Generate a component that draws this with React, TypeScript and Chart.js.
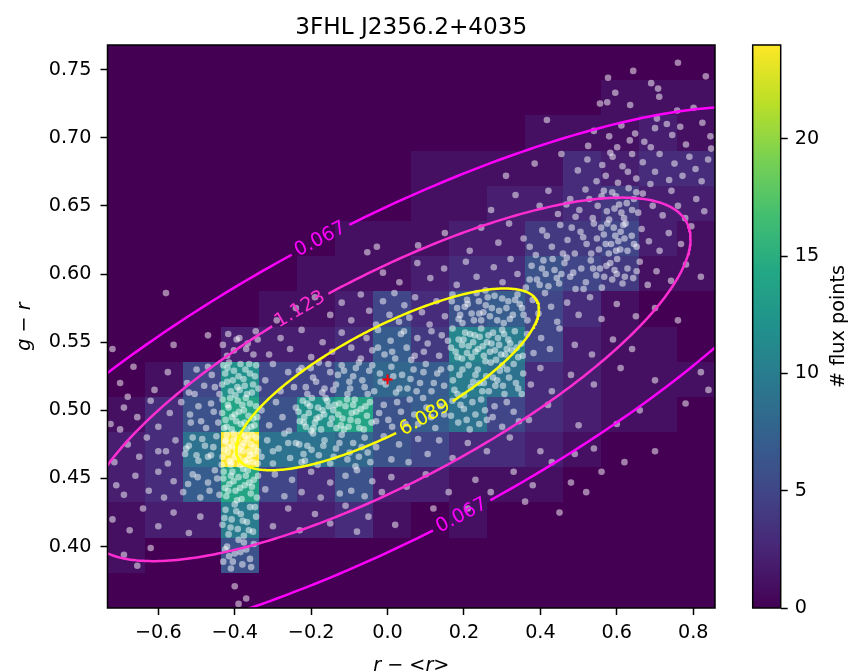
import React, { useEffect, useRef } from "react";
import { Chart, registerables } from "chart.js";

Chart.register(...registerables);

const FONT = '"DejaVu Sans", "Liberation Sans", sans-serif';

const TITLE = "3FHL J2356.2+4035";
const X_LABEL = "r − <r>";
const Y_LABEL = "g − r";
const CBAR_LABEL = "# flux points";

const X_RANGE = [-0.733, 0.857];
const Y_RANGE = [0.355, 0.768];
const X_TICKS = [-0.6, -0.4, -0.2, 0.0, 0.2, 0.4, 0.6, 0.8];
const Y_TICKS = [0.4, 0.45, 0.5, 0.55, 0.6, 0.65, 0.7, 0.75];
const CBAR_TICKS = [0, 5, 10, 15, 20];
const CBAR_MAX = 24;

// 16 x 16 histogram counts, rows from top (high g-r) to bottom
const HIST_COUNTS: number[][] = [
  [0, 0, 0, 0, 0, 0, 0, 0, 0, 0, 0, 0, 0, 0, 0, 0],
  [0, 0, 0, 0, 0, 0, 0, 0, 0, 0, 0, 0, 0, 1, 1, 1],
  [0, 0, 0, 0, 0, 0, 0, 0, 0, 0, 0, 1, 1, 1, 2, 1],
  [0, 0, 0, 0, 0, 0, 0, 0, 1, 1, 1, 1, 3, 2, 3, 3],
  [0, 0, 0, 0, 0, 0, 0, 0, 1, 1, 2, 2, 3, 4, 2, 2],
  [0, 0, 0, 0, 0, 0, 1, 1, 1, 2, 2, 4, 4, 5, 2, 1],
  [0, 0, 0, 0, 0, 1, 1, 1, 2, 3, 3, 6, 5, 4, 1, 1],
  [0, 0, 0, 0, 1, 1, 2, 5, 3, 6, 7, 5, 3, 1, 0, 0],
  [0, 0, 0, 2, 2, 2, 3, 7, 4, 11, 10, 5, 2, 1, 1, 0],
  [0, 1, 5, 12, 5, 5, 7, 8, 7, 10, 9, 3, 2, 1, 1, 1],
  [1, 3, 6, 14, 6, 12, 14, 6, 7, 9, 5, 3, 2, 1, 1, 0],
  [2, 3, 9, 24, 9, 9, 8, 6, 5, 3, 3, 2, 1, 0, 0, 0],
  [2, 3, 7, 14, 5, 3, 6, 2, 2, 1, 1, 1, 0, 0, 0, 0],
  [1, 2, 2, 10, 2, 2, 3, 1, 0, 1, 0, 0, 0, 0, 0, 0],
  [1, 0, 0, 6, 0, 0, 0, 0, 0, 0, 0, 0, 0, 0, 0, 0],
  [0, 0, 0, 0, 0, 0, 0, 0, 0, 0, 0, 0, 0, 0, 0, 0],
];

// Gaussian model behind the contours
const GAUSS_MEAN = [0.0, 0.5227];
const GAUSS_SIGMA = [0.37345, 0.062806];
const GAUSS_RHO = 0.773;
const CONTOUR_LEVELS = [0.067, 1.123, 6.089];
const CONTOUR_COLORS = ["#ff00ff", "#ff2dd2", "#ffff00"];
const CONTOUR_LABEL_T = [[98.5, 279.4], [106.8], [284.3]];
const CENTER = [0.0, 0.5227];

const SCATTER: number[][] = [
  [.760,.755],[.643,.749],[.577,.744],[.708,.736],[.711,.730],[.596,.733],[.556,.725],[.575,.726],[.635,.724],[.758,.720],[.417,.713],[.705,.714],[.731,.710],[.833,.745],[.801,.722],[.690,.740],[.845,.701],
  [.540,.705],[.580,.701],[.612,.709],[.648,.703],[.672,.697],[.700,.707],[.745,.702],[.781,.695],[.824,.711],[.525,.694],[.601,.693],[.689,.693],[.766,.708],[.634,.698],[.847,.692],
  [.455,.688],[.498,.676],[.523,.684],[.562,.680],[.571,.672],[.589,.686],[.603,.667],[.615,.679],[.640,.688],[.651,.670],[.668,.682],[.700,.675],[.712,.688],[.737,.669],[.751,.681],[.772,.672],[.790,.686],[.806,.677],[.822,.668],[.839,.684],[.547,.668],[.629,.675],[.583,.689],[.688,.666],[.385,.681],[.310,.672],
  [.271,.647],[.335,.658],[.398,.650],[.421,.661],[.446,.644],[.478,.655],[.502,.647],[.518,.662],[.537,.641],[.560,.657],[.574,.646],[.588,.660],[.606,.651],[.619,.641],[.631,.663],[.645,.655],[.656,.645],[.668,.659],[.694,.650],[.720,.643],[.743,.661],[.760,.650],[.779,.641],[.808,.655],[.829,.646],[.612,.645],[.598,.657],[.550,.650],[.580,.640],[.640,.647],
  [.080,.621],[.150,.630],[.215,.617],[.245,.634],[.290,.623],[.318,.637],[.356,.626],[.388,.614],[.405,.632],[.430,.620],[.452,.636],[.471,.625],[.490,.615],[.505,.631],[.521,.622],[.540,.637],[.553,.618],[.566,.629],[.579,.615],[.592,.634],[.604,.624],[.617,.636],[.628,.617],[.639,.628],[.652,.620],[.665,.633],[.684,.624],[.712,.617],[.736,.630],[.768,.622],[.795,.635],[.620,.626],[.585,.622],[.548,.626],[.598,.617],[.610,.631],[.575,.637],[-.053,.616],[-.028,.620],
  [-.012,.601],[.031,.594],[.078,.608],[.112,.597],[.148,.604],[.181,.592],[.205,.609],[.233,.598],[.256,.588],[.278,.605],[.301,.594],[.322,.611],[.340,.600],[.362,.590],[.377,.606],[.391,.596],[.408,.610],[.421,.591],[.437,.603],[.449,.593],[.463,.608],[.478,.598],[.492,.589],[.507,.604],[.519,.594],[.532,.610],[.546,.599],[.561,.590],[.573,.606],[.588,.596],[.601,.611],[.615,.593],[.628,.604],[.643,.597],[.660,.609],[.681,.592],[.704,.602],[.742,.595],[.781,.607],[.820,.598],[.414,.600],[.398,.592],[.432,.611],[.455,.600],[.600,.600],[.583,.608],[.556,.604],
  [-.290,.566],[-.240,.575],[-.190,.583],[-.150,.570],[-.120,.579],[-.095,.566],[-.070,.585],[-.048,.573],[-.030,.563],[-.012,.580],[.005,.570],[.018,.586],[.030,.565],[.044,.577],[.057,.568],[.072,.583],[.090,.572],[.110,.563],[.128,.580],[.150,.569],[.170,.585],[.182,.575],[.196,.564],[.208,.581],[.220,.571],[.233,.586],[.245,.566],[.257,.577],[.268,.569],[.280,.584],[.292,.573],[.304,.564],[.316,.580],[.328,.570],[.340,.585],[.352,.575],[.366,.566],[.380,.581],[.395,.571],[.412,.586],[.428,.576],[.444,.565],[.470,.579],[.500,.570],[.530,.583],[.560,.567],[.600,.578],[.650,.569],[.700,.575],[.760,.566],[.210,.578],[.240,.571],[.300,.582],[.190,.570],[.262,.583],[.320,.567],[.346,.578],[-.580,.586],
  [-.560,.548],[-.470,.555],[-.420,.540],[-.395,.552],[-.370,.545],[-.345,.558],[-.310,.541],[-.280,.553],[-.255,.545],[-.225,.559],[-.200,.539],[-.170,.550],[-.145,.543],[-.120,.557],[-.095,.546],[-.070,.538],[-.055,.553],[-.040,.544],[-.025,.559],[-.008,.541],[.008,.551],[.020,.538],[.035,.556],[.050,.546],[.062,.537],[.078,.553],[.095,.543],[.115,.558],[.135,.540],[.158,.551],[.170,.560],[.178,.543],[.186,.552],[.195,.538],[.203,.557],[.212,.547],[.220,.539],[.228,.555],[.237,.545],[.245,.560],[.252,.540],[.260,.550],[.268,.543],[.276,.557],[.284,.537],[.292,.548],[.300,.559],[.308,.541],[.316,.552],[.325,.544],[.333,.558],[.342,.539],[.350,.549],[.365,.556],[.382,.542],[.402,.553],[.425,.545],[.450,.560],[.490,.548],[.535,.541],[.590,.552],[.640,.545],[.195,.548],[.230,.543],[.264,.555],[.289,.553],[.312,.545],[.216,.556],[-.720,.545],
  [-.700,.520],[-.665,.532],[-.610,.515],[-.575,.528],[-.520,.513],[-.500,.530],[-.480,.518],[-.460,.526],[-.440,.512],[-.430,.533],[-.420,.521],[-.410,.514],[-.402,.529],[-.393,.517],[-.385,.534],[-.377,.523],[-.368,.512],[-.360,.527],[-.352,.519],[-.344,.533],[-.425,.527],[-.398,.511],[-.372,.530],[-.415,.535],[-.390,.525],[-.355,.513],[-.320,.522],[-.300,.534],[-.280,.514],[-.260,.528],[-.245,.517],[-.225,.531],[-.210,.512],[-.195,.524],[-.180,.535],[-.165,.516],[-.150,.528],[-.135,.519],[-.120,.533],[-.105,.512],[-.090,.525],[-.075,.535],[-.060,.517],[-.048,.529],[-.035,.514],[-.020,.527],[-.005,.519],[.010,.532],[.022,.513],[.038,.526],[.052,.516],[.068,.530],[.085,.520],[.100,.534],[.115,.514],[.130,.527],[.148,.518],[.165,.531],[.175,.515],[.188,.526],[.200,.511],[.212,.533],[.224,.521],[.236,.530],[.248,.514],[.258,.525],[.270,.535],[.282,.518],[.294,.529],[.306,.512],[.318,.524],[.330,.534],[.342,.516],[.355,.527],[.375,.519],[.400,.531],[.430,.514],[.480,.526],[.540,.519],[.610,.531],[.700,.522],[.820,.528],[.240,.520],[.276,.524],[.300,.533],[-.130,.526],[-.100,.521],[-.040,.533],[-.680,.510],
  [-.725,.490],[-.690,.502],[-.655,.495],[-.620,.507],[-.600,.488],[-.570,.498],[-.540,.506],[-.515,.491],[-.495,.503],[-.475,.487],[-.455,.499],[-.432,.508],[-.424,.493],[-.416,.502],[-.408,.486],[-.400,.497],[-.392,.507],[-.384,.490],[-.376,.500],[-.368,.486],[-.360,.505],[-.352,.494],[-.344,.503],[-.428,.487],[-.412,.509],[-.396,.492],[-.380,.504],[-.364,.496],[-.348,.489],[-.330,.500],[-.310,.489],[-.292,.506],[-.275,.495],[-.258,.485],[-.240,.502],[-.230,.492],[-.222,.507],[-.214,.488],[-.206,.498],[-.198,.509],[-.190,.491],[-.182,.502],[-.174,.486],[-.166,.497],[-.158,.507],[-.150,.490],[-.142,.500],[-.134,.487],[-.126,.505],[-.118,.494],[-.110,.503],[-.102,.488],[-.094,.498],[-.086,.508],[-.078,.492],[-.070,.501],[-.062,.486],[-.054,.496],[-.046,.506],[-.218,.495],[-.186,.494],[-.154,.503],[-.122,.489],[-.090,.504],[-.030,.492],[-.010,.504],[.012,.488],[.035,.499],[.058,.508],[.080,.490],[.102,.502],[.125,.487],[.148,.497],[.170,.507],[.185,.491],[.200,.501],[.215,.486],[.230,.497],[.245,.508],[.260,.493],[.280,.503],[.300,.488],[.330,.499],[.370,.493],[.420,.504],[.500,.489],[-.700,.486],[-.200,.485],[.600,.490],[.660,.500],[.780,.505],[.840,.515],
  [-.715,.462],[-.680,.475],[-.650,.466],[-.630,.480],[-.600,.470],[-.575,.461],[-.555,.478],[-.530,.468],[-.510,.480],[-.495,.463],[-.478,.474],[-.462,.467],[-.448,.481],[-.434,.460],[-.428,.471],[-.421,.482],[-.414,.463],[-.407,.474],[-.400,.466],[-.393,.479],[-.386,.460],[-.379,.470],[-.372,.481],[-.365,.464],[-.358,.475],[-.351,.468],[-.344,.480],[-.340,.461],[-.418,.469],[-.404,.478],[-.390,.465],[-.376,.476],[-.362,.470],[-.348,.473],[-.425,.477],[-.411,.460],[-.397,.472],[-.383,.483],[-.369,.461],[-.355,.482],[-.330,.466],[-.315,.478],[-.300,.461],[-.285,.472],[-.270,.483],[-.255,.465],[-.240,.476],[-.225,.462],[-.210,.474],[-.195,.483],[-.180,.467],[-.165,.478],[-.150,.461],[-.135,.472],[-.120,.482],[-.105,.464],[-.090,.476],[-.075,.466],[-.060,.480],[-.045,.462],[-.030,.473],[-.010,.481],[.010,.464],[.030,.475],[.055,.462],[.080,.479],[.105,.468],[.135,.478],[.170,.465],[.210,.476],[.260,.470],[.320,.480],[-.580,.470],[-.520,.474],[-.470,.466],[-.300,.470],[-.260,.476],[-.220,.468],[.400,.470],[.430,.462],[.490,.468],[.540,.472],[.620,.462],[.700,.470],
  [-.710,.445],[-.690,.438],[-.660,.452],[-.625,.441],[-.600,.455],[-.585,.436],[-.560,.448],[-.535,.440],[-.510,.453],[-.490,.436],[-.470,.447],[-.452,.456],[-.440,.438],[-.430,.450],[-.422,.437],[-.414,.446],[-.406,.455],[-.398,.441],[-.390,.451],[-.382,.435],[-.374,.445],[-.366,.456],[-.358,.439],[-.350,.449],[-.342,.436],[-.426,.443],[-.410,.452],[-.394,.434],[-.378,.457],[-.362,.447],[-.320,.442],[-.295,.453],[-.270,.437],[-.250,.449],[-.225,.440],[-.200,.455],[-.175,.436],[-.150,.447],[-.125,.439],[-.110,.452],[-.095,.441],[-.080,.456],[-.060,.437],[-.040,.448],[-.015,.440],[.010,.451],[.050,.444],[.100,.453],[.160,.440],[.230,.449],[.270,.440],[.330,.455],[.380,.445],[.480,.447],[.520,.440],[.560,.455],
  [-.720,.420],[-.675,.412],[-.640,.428],[-.600,.415],[-.560,.425],[-.520,.410],[-.490,.422],[-.432,.416],[-.424,.427],[-.416,.409],[-.408,.420],[-.400,.431],[-.392,.413],[-.384,.424],[-.376,.408],[-.368,.418],[-.360,.429],[-.352,.411],[-.344,.422],[-.300,.415],[-.260,.428],[-.230,.412],[-.190,.424],[-.150,.417],[-.110,.430],[-.080,.411],[-.050,.422],[.020,.416],[.120,.428],[.210,.428],[.360,.433],[.450,.425],
  [-.690,.394],[-.655,.386],[-.620,.399],[-.430,.389],[-.420,.400],[-.410,.384],[-.400,.395],[-.390,.405],[-.380,.387],[-.370,.398],[-.360,.391],[-.350,.402],[-.415,.393],[-.385,.396],
  [-.400,.371],[-.370,.362],[-.390,.358],
];

const SCATTER_DENSE: number[][] = [
  [-.431,.548],[-.417,.556],[-.402,.544],[-.388,.553],[-.366,.549],[-.351,.541],[-.340,.552],
  [-.433,.519],[-.419,.531],[-.405,.522],[-.387,.515],[-.374,.518],[-.362,.534],[-.347,.525],[-.338,.516],
  [-.433,.498],[-.421,.488],[-.407,.495],[-.389,.499],[-.371,.509],[-.357,.488],[-.341,.495],[-.418,.504],[-.374,.491],
  [-.432,.466],[-.423,.478],[-.409,.462],[-.396,.468],[-.381,.474],[-.367,.479],[-.353,.462],[-.339,.470],[-.416,.473],[-.402,.483],[-.388,.471],[-.374,.463],[-.360,.467],
  [-.429,.455],[-.417,.441],[-.403,.448],[-.386,.443],[-.371,.452],[-.355,.444],[-.339,.452],
  [-.427,.421],[-.411,.414],[-.396,.426],[-.379,.419],[-.363,.412],[-.347,.429],
  [-.425,.398],[-.405,.389],[-.376,.403],[-.357,.385],
  [-.525,.520],[-.505,.512],[-.470,.532],[-.452,.517],[-.517,.497],[-.488,.492],[-.462,.505],[-.443,.491],[-.527,.472],[-.500,.467],[-.485,.479],[-.456,.473],[-.522,.446],[-.497,.451],[-.466,.441],[-.446,.450],
  [-.232,.529],[-.214,.517],[-.201,.531],[-.187,.521],[-.171,.513],[-.155,.534],[-.142,.515],[-.114,.529],[-.098,.516],[-.083,.531],[-.066,.522],[-.052,.512],
  [-.233,.499],[-.219,.491],[-.203,.503],[-.194,.487],[-.178,.495],[-.162,.509],[-.146,.494],[-.138,.504],[-.129,.497],[-.114,.486],[-.106,.508],[-.097,.493],[-.082,.499],[-.074,.487],[-.058,.503],[-.042,.491],[-.170,.500],[-.210,.505],
  [-.231,.475],[-.216,.463],[-.199,.471],[-.183,.460],[-.168,.474],[-.141,.466],[-.126,.476],[-.099,.469],[-.084,.459],[-.068,.473],[-.052,.469],
  [-.025,.546],[.012,.543],[.043,.558],[.071,.540],[.105,.549],[.142,.555],
  [-.018,.521],[.015,.525],[.031,.516],[.060,.523],[.076,.514],[.094,.528],[.121,.520],[.140,.530],
  [-.022,.498],[.002,.493],[.025,.506],[.047,.490],[.070,.497],[.093,.509],[.114,.495],[.139,.503],
  [.168,.580],[.186,.567],[.202,.576],[.226,.566],[.239,.580],[.251,.572],[.273,.575],[.287,.566],[.311,.575],[.334,.581],[.356,.570],
  [.166,.546],[.183,.539],[.199,.552],[.208,.542],[.224,.550],[.241,.554],[.249,.547],[.256,.536],[.272,.549],[.281,.544],[.297,.541],[.305,.556],[.321,.549],[.338,.546],[.354,.540],
  [.171,.522],[.183,.512],[.196,.530],[.218,.517],[.230,.526],[.252,.520],[.265,.514],[.287,.522],[.302,.518],[.313,.530],[.336,.520],[.351,.512],
  [.166,.496],[.191,.504],[.207,.493],[.222,.506],[.240,.490],[.255,.500],[.275,.495],[.312,.506],[.344,.492],
  [.468,.651],[.492,.642],[.528,.655],[.566,.661],[.594,.648],[.626,.652],[.651,.660],
  [.372,.620],[.417,.628],[.459,.615],[.482,.634],[.512,.627],[.533,.615],[.559,.634],[.571,.622],[.596,.628],[.609,.618],[.623,.637],[.645,.622],
  [.372,.596],[.404,.604],[.443,.597],[.469,.612],[.486,.601],[.513,.589],[.538,.604],[.567,.598],[.594,.603],[.621,.598],[.652,.602],
];

const VIRIDIS: [number, number, number][] = [
  [68, 1, 84], [72, 36, 117], [65, 68, 135], [53, 95, 141], [42, 120, 142],
  [33, 145, 140], [34, 168, 132], [68, 191, 112], [122, 209, 81], [189, 223, 38], [253, 231, 37],
];

function viridis(f: number): string {
  const v = Math.max(0, Math.min(1, f)) * (VIRIDIS.length - 1);
  const i = Math.min(VIRIDIS.length - 2, Math.floor(v));
  const u = v - i;
  const a = VIRIDIS[i], b = VIRIDIS[i + 1];
  const c = a.map((q, k) => Math.round(q + (b[k] - q) * u));
  return `rgb(${c[0]},${c[1]},${c[2]})`;
}

const F0 = 1 / (2 * Math.PI * GAUSS_SIGMA[0] * GAUSS_SIGMA[1] * Math.sqrt(1 - GAUSS_RHO * GAUSS_RHO));
const levelRadius = (lvl: number) => Math.sqrt(2 * Math.log(F0 / lvl));

function ellipsePoint(d: number, tDeg: number) {
  const t = (tDeg * Math.PI) / 180;
  const c = Math.cos(t), s = Math.sin(t);
  return {
    x: GAUSS_MEAN[0] + d * GAUSS_SIGMA[0] * c,
    y: GAUSS_MEAN[1] + d * GAUSS_SIGMA[1] * (GAUSS_RHO * c + Math.sqrt(1 - GAUSS_RHO * GAUSS_RHO) * s),
  };
}

function ellipseData(lvl: number) {
  const d = levelRadius(lvl);
  const pts = [];
  for (let t = 0; t <= 360; t += 1) pts.push(ellipsePoint(d, t));
  return pts;
}

const fmtNum = (v: number, dec: number) => {
  const s = Math.abs(v).toFixed(dec);
  return v < -1e-9 ? "\u2212" + s : s;
};

const LABEL_FONT = `19.2px ${FONT}`;

function labelGeometry(chart: any, ci: number) {
  const xs = chart.scales.x, ys = chart.scales.y;
  const d = levelRadius(CONTOUR_LEVELS[ci]);
  const ctx = chart.ctx;
  ctx.save();
  ctx.font = LABEL_FONT;
  const text = CONTOUR_LEVELS[ci].toFixed(3);
  const w = ctx.measureText(text).width;
  ctx.restore();
  return CONTOUR_LABEL_T[ci].map((t) => {
    const p = ellipsePoint(d, t);
    const a = ellipsePoint(d, t - 0.5), b = ellipsePoint(d, t + 0.5);
    const px = xs.getPixelForValue(p.x), py = ys.getPixelForValue(p.y);
    let ang = Math.atan2(ys.getPixelForValue(b.y) - ys.getPixelForValue(a.y), xs.getPixelForValue(b.x) - xs.getPixelForValue(a.x));
    if (ang > Math.PI / 2) ang -= Math.PI;
    if (ang < -Math.PI / 2) ang += Math.PI;
    return { px, py, ang, w, text };
  });
}

const heatmapPlugin = {
  id: "heatmap",
  beforeDatasetsDraw(chart: any) {
    const { ctx } = chart;
    const xs = chart.scales.x, ys = chart.scales.y;
    const nr = HIST_COUNTS.length, nc = HIST_COUNTS[0].length;
    const dx = (X_RANGE[1] - X_RANGE[0]) / nc, dy = (Y_RANGE[1] - Y_RANGE[0]) / nr;
    ctx.save();
    for (let r = 0; r < nr; r++) {
      for (let c = 0; c < nc; c++) {
        const x0 = Math.round(xs.getPixelForValue(X_RANGE[0] + c * dx));
        const x1 = Math.round(xs.getPixelForValue(X_RANGE[0] + (c + 1) * dx));
        const y0 = Math.round(ys.getPixelForValue(Y_RANGE[1] - r * dy));
        const y1 = Math.round(ys.getPixelForValue(Y_RANGE[1] - (r + 1) * dy));
        ctx.fillStyle = viridis(HIST_COUNTS[r][c] / CBAR_MAX);
        ctx.fillRect(x0, y0, x1 - x0, y1 - y0);
      }
    }
    ctx.restore();
  },
};

const contourClipPlugin = {
  id: "contourClip",
  beforeDatasetDraw(chart: any, args: any) {
    const ds = chart.data.datasets[args.index];
    if (ds.contourIndex === undefined) return;
    const ctx = chart.ctx;
    const labels = labelGeometry(chart, ds.contourIndex);
    ctx.save();
    ctx.beginPath();
    ctx.rect(0, 0, chart.width, chart.height);
    labels.forEach((l: any) => {
      const hw = l.w / 2 + 5, hh = 11;
      const ca = Math.cos(l.ang), sa = Math.sin(l.ang);
      const corners = [[-hw, -hh], [hw, -hh], [hw, hh], [-hw, hh]].map(([u, v]) => [l.px + u * ca - v * sa, l.py + u * sa + v * ca]);
      ctx.moveTo(corners[0][0], corners[0][1]);
      for (let i = 1; i < 4; i++) ctx.lineTo(corners[i][0], corners[i][1]);
      ctx.closePath();
    });
    ctx.clip("evenodd");
  },
  afterDatasetDraw(chart: any, args: any) {
    const ds = chart.data.datasets[args.index];
    if (ds.contourIndex === undefined) return;
    chart.ctx.restore();
  },
};

const decorPlugin = {
  id: "decor",
  afterDatasetsDraw(chart: any) {
    const ctx = chart.ctx;
    ctx.save();
    ctx.font = LABEL_FONT;
    ctx.textAlign = "center";
    ctx.textBaseline = "middle";
    CONTOUR_LEVELS.forEach((_, ci) => {
      labelGeometry(chart, ci).forEach((l: any) => {
        ctx.save();
        ctx.translate(l.px, l.py);
        ctx.rotate(l.ang);
        ctx.fillStyle = CONTOUR_COLORS[ci];
        ctx.fillText(l.text, 0, 0);
        ctx.restore();
      });
    });
    ctx.restore();
  },
  afterDraw(chart: any) {
    const ctx = chart.ctx;
    const a = chart.chartArea;
    ctx.save();
    ctx.strokeStyle = "#000";
    ctx.lineWidth = 1.5;
    ctx.strokeRect(a.left, a.top, a.right - a.left, a.bottom - a.top);
    ctx.fillStyle = "#000";
    ctx.font = `23.2px ${FONT}`;
    ctx.textAlign = "center";
    ctx.textBaseline = "alphabetic";
    ctx.fillText(TITLE, (a.left + a.right) / 2, a.top - 11.2);
    ctx.restore();
  },
};

const colorbarPlugin = {
  id: "colorbar",
  beforeDatasetsDraw(chart: any) {
    const ctx = chart.ctx;
    const a = chart.chartArea;
    const ys = chart.scales.y;
    const yb = ys.getPixelForValue(0), yt = ys.getPixelForValue(CBAR_MAX);
    const g = ctx.createLinearGradient(0, yb, 0, yt);
    for (let i = 0; i <= 40; i++) g.addColorStop(i / 40, viridis(i / 40));
    ctx.save();
    ctx.fillStyle = g;
    ctx.fillRect(a.left, yt, a.right - a.left, yb - yt);
    ctx.strokeStyle = "#000";
    ctx.lineWidth = 1.5;
    ctx.strokeRect(a.left, yt, a.right - a.left, yb - yt);
    ctx.translate(ys.right - 12.5, (a.top + a.bottom) / 2);
    ctx.rotate(-Math.PI / 2);
    ctx.font = `19.2px ${FONT}`;
    ctx.fillStyle = "#000";
    ctx.textAlign = "center";
    ctx.textBaseline = "middle";
    ctx.fillText(CBAR_LABEL, 0, 0);
    ctx.restore();
  },
};

const tickFont = { family: FONT, size: 19.2 };
const gridOpts = { drawOnChartArea: false, drawTicks: true, tickLength: 7, tickWidth: 1.5, tickColor: "#000" };

export default function App() {
  const mainRef = useRef<HTMLCanvasElement | null>(null);
  const cbRef = useRef<HTMLCanvasElement | null>(null);

  useEffect(() => {
    if (!mainRef.current || !cbRef.current) return;
    const contourSets = CONTOUR_LEVELS.map((lvl, i) => ({
      label: lvl.toFixed(3),
      data: ellipseData(lvl),
      showLine: true,
      pointRadius: 0,
      borderColor: CONTOUR_COLORS[i],
      borderWidth: 2.5,
      tension: 0,
      fill: false,
      clip: 0,
      order: 1,
      contourIndex: i,
    }));
    const main = new Chart(mainRef.current, {
      type: "scatter",
      data: {
        datasets: [
          {
            label: "center",
            data: [{ x: CENTER[0], y: CENTER[1] }],
            pointStyle: "cross",
            pointRadius: 5,
            borderColor: "#ff0000",
            borderWidth: 2,
            order: 0,
          } as any,
          ...(contourSets as any[]),
          {
            label: "samples",
            data: SCATTER.concat(SCATTER_DENSE).map(([x, y]) => ({ x, y })),
            pointRadius: 3.3,
            backgroundColor: "rgba(255,255,255,0.5)",
            borderWidth: 0,
            clip: 0,
            order: 5,
          } as any,
        ],
      },
      options: {
        responsive: false,
        animation: false,
        events: [],
        layout: { padding: { left: 0, right: 137, top: 45, bottom: 0 } },
        plugins: { legend: { display: false }, tooltip: { enabled: false }, title: { display: false } },
        scales: {
          x: {
            type: "linear",
            min: X_RANGE[0],
            max: X_RANGE[1],
            afterFit: (s: any) => { s.height = 64; },
            afterBuildTicks: (s: any) => { s.ticks = X_TICKS.map((v) => ({ value: v })); },
            ticks: { callback: (v: any) => fmtNum(Number(v), 1), font: tickFont, color: "#000", padding: 6, maxRotation: 0, autoSkip: false },
            grid: gridOpts,
            border: { display: false },
            title: { display: true, text: X_LABEL, font: { family: FONT, size: 19.2, style: "italic" }, color: "#000", padding: { top: 0, bottom: -6 } },
          },
          y: {
            type: "linear",
            min: Y_RANGE[0],
            max: Y_RANGE[1],
            afterFit: (s: any) => { s.width = 107.5; },
            afterBuildTicks: (s: any) => { s.ticks = Y_TICKS.map((v) => ({ value: v })); },
            ticks: { callback: (v: any) => fmtNum(Number(v), 2), font: tickFont, color: "#000", padding: 9, autoSkip: false },
            grid: gridOpts,
            border: { display: false },
            title: { display: true, text: Y_LABEL, font: { family: FONT, size: 19.2, style: "italic" }, color: "#000", padding: { top: 13, bottom: 0 } },
          },
        },
      } as any,
      plugins: [heatmapPlugin, contourClipPlugin, decorPlugin],
    });

    const cb = new Chart(cbRef.current, {
      type: "scatter",
      data: { datasets: [] },
      options: {
        responsive: false,
        animation: false,
        events: [],
        layout: { padding: { left: 752.7, right: 0, top: 45, bottom: 64 } },
        plugins: { legend: { display: false }, tooltip: { enabled: false } },
        scales: {
          x: { display: false, min: 0, max: 1 },
          y: {
            position: "right",
            min: 0,
            max: CBAR_MAX,
            afterFit: (s: any) => { s.width = 71.3; },
            afterBuildTicks: (s: any) => { s.ticks = CBAR_TICKS.map((v) => ({ value: v })); },
            ticks: { callback: (v: any) => String(v), font: tickFont, color: "#000", padding: 7, autoSkip: false },
            grid: gridOpts,
            border: { display: false },
          },
        },
      } as any,
      plugins: [colorbarPlugin],
    });

    return () => {
      main.destroy();
      cb.destroy();
    };
  }, []);

  return (
    <div style={{ position: "fixed", left: 0, top: 0, width: 852, height: 672, background: "#fff" }}>
      <canvas ref={mainRef} width={852} height={672} style={{ position: "absolute", left: 0, top: 0 }} />
      <canvas ref={cbRef} width={852} height={672} style={{ position: "absolute", left: 0, top: 0 }} />
    </div>
  );
}
